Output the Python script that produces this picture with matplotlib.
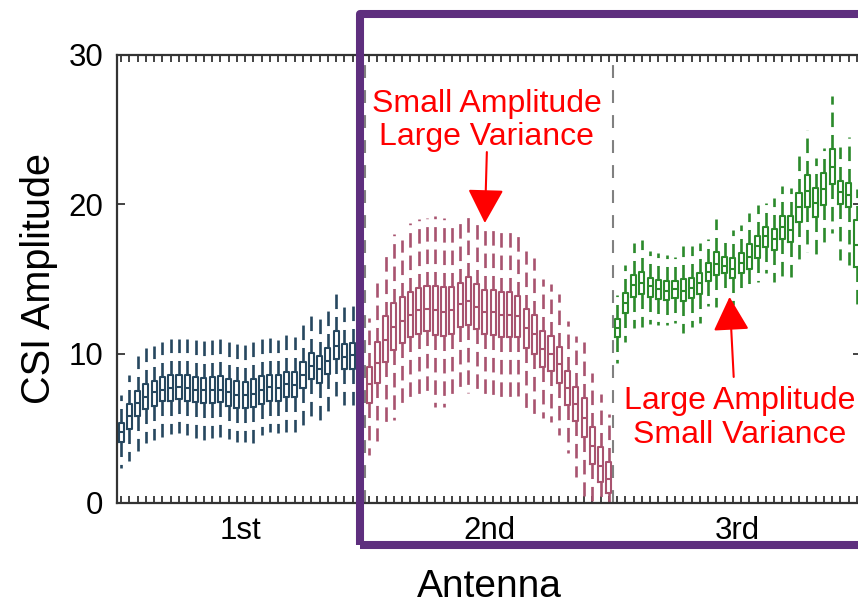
import matplotlib
matplotlib.use("Agg")
import matplotlib.pyplot as plt
from matplotlib.patches import Rectangle
import numpy as np

plt.rcParams['font.family'] = ['Liberation Sans', 'DejaVu Sans']

antennas = ['1st', '2nd', '3rd']
colors = ['#26475f', '#a8536f', '#2b8a2b']

ant1_q1 = [4.1, 4.95, 5.85, 6.3, 6.5, 6.8, 6.85, 6.95, 6.85, 6.75, 6.7, 6.7, 6.75, 6.5, 6.38,
           6.35, 6.45, 6.6, 6.83, 6.83, 7.08, 7.08, 7.72, 8.28, 8.06, 8.64, 9.62, 8.95, 9.0, 9.0]
ant1_med = [4.75, 5.8, 6.7, 7.1, 7.4, 7.6, 7.7, 7.75, 7.7, 7.6, 7.55, 7.6, 7.6, 7.4, 7.25,
            7.2, 7.3, 7.6, 7.75, 7.7, 7.95, 7.9, 8.6, 9.2, 8.95, 9.5, 10.5, 9.8, 9.9, 9.8]
ant1_q3 = [5.38, 6.6, 7.5, 7.97, 8.2, 8.45, 8.57, 8.6, 8.57, 8.46, 8.4, 8.46, 8.5, 8.28, 8.17,
           8.1, 8.28, 8.5, 8.6, 8.57, 8.8, 8.75, 9.46, 10.07, 9.85, 10.4, 11.5, 10.65, 10.7, 10.6]
ant1_lo = [2.35, 2.8, 3.5, 4.0, 4.2, 4.45, 4.6, 4.7, 4.55, 4.33, 4.2, 4.33, 4.45, 4.26, 4.1,
           4.1, 4.04, 4.55, 4.78, 4.67, 4.78, 4.78, 5.22, 5.78, 5.45, 6.05, 6.79, 6.56, 6.56, 6.6]
ant1_hi = [7.2, 8.6, 9.85, 10.36, 10.5, 10.8, 10.96, 10.96, 11.0, 10.9, 10.85, 11.2, 11.2, 10.9, 10.8,
           10.9, 10.96, 11.14, 11.14, 10.9, 11.25, 11.1, 11.9, 12.75, 12.5, 13.04, 14.38, 13.15, 13.2, 13.0]

ant2_q1 = [6.7, 8.06, 9.42, 10.25, 10.7, 11.1, 11.3, 11.5, 11.25, 11.2, 11.3, 11.8, 11.92, 11.65, 11.32,
           11.25, 11.14, 11.1, 11.14, 10.36, 9.98, 9.13, 8.86, 8.06, 6.56, 5.5, 4.44, 2.6, 1.43, 0.69]
ant2_med = [8.0, 9.4, 10.9, 11.8, 12.2, 12.6, 12.9, 13.0, 12.9, 12.8, 12.9, 13.3, 13.5, 13.1, 12.8,
            12.8, 12.6, 12.6, 12.5, 11.7, 11.3, 10.3, 10.0, 9.3, 7.7, 6.6, 5.7, 3.8, 2.5, 1.6]
ant2_q3 = [9.1, 10.76, 12.5, 13.37, 13.78, 14.15, 14.4, 14.5, 14.5, 14.45, 14.45, 14.76, 15.16, 14.65, 14.27,
           14.27, 14.15, 14.1, 13.86, 13.0, 12.6, 11.52, 11.2, 10.47, 8.84, 7.8, 7.0, 5.11, 3.77, 2.77]
ant2_lo = [3.2, 4.17, 5.0, 5.56, 6.23, 6.68, 6.8, 7.0, 6.45, 6.45, 6.9, 7.39, 7.35, 7.17, 6.9,
           6.9, 6.8, 6.72, 7.17, 6.23, 5.78, 5.67, 5.45, 4.55, 3.33, 1.76, 0.5, 0.0, 0.0, 0.0]
ant2_hi = [12.4, 14.7, 17.0, 18.0, 17.6, 18.73, 19.0, 19.07, 19.2, 19.07, 18.96, 18.9, 19.5, 19.1, 18.7,
           18.7, 18.3, 18.5, 17.9, 16.9, 16.4, 15.0, 14.65, 13.98, 12.2, 11.2, 10.76, 8.69, 7.28, 5.94]

ant3_q1 = [11.1, 12.75, 13.8, 14.0, 13.8, 13.64, 13.6, 13.7, 13.5, 13.7, 14.0, 14.87, 15.27, 15.43, 15.05,
           15.4, 15.67, 16.43, 17.17, 16.95, 17.66, 17.5, 18.84, 19.85, 19.18, 19.96, 21.37, 20.03, 19.85, 15.8]
ant3_med = [11.7, 13.4, 14.6, 14.7, 14.5, 14.3, 14.2, 14.3, 14.2, 14.4, 14.7, 15.5, 16.0, 15.9, 15.7,
            16.1, 16.5, 17.2, 17.9, 17.7, 18.5, 18.3, 19.8, 20.9, 20.1, 21.0, 22.5, 20.8, 20.6, 17.3]
ant3_q3 = [12.3, 14.05, 15.3, 15.45, 15.1, 14.94, 14.87, 14.87, 15.0, 15.1, 15.43, 16.05, 16.8, 16.46, 16.4,
           16.77, 17.33, 17.88, 18.5, 18.35, 19.22, 19.22, 20.78, 21.97, 21.12, 22.08, 23.7, 21.57, 21.45, 18.95]
ant3_lo = [9.36, 10.8, 11.7, 11.8, 12.0, 11.9, 11.9, 12.08, 11.37, 11.77, 12.04, 13.2, 13.15, 14.04, 13.26,
           14.15, 14.27, 14.82, 15.43, 14.82, 15.16, 15.16, 16.16, 16.83, 16.6, 17.28, 18.06, 16.28, 15.94, 13.0]
ant3_hi = [13.93, 15.94, 17.4, 17.6, 16.9, 16.72, 16.6, 16.5, 17.2, 17.2, 17.4, 17.66, 19.0, 17.9, 18.3,
           18.6, 19.45, 19.96, 20.07, 20.4, 21.23, 21.08, 23.3, 25.0, 23.1, 23.76, 27.26, 23.87, 24.5, 21.0]

data = [
    (ant1_q1, ant1_med, ant1_q3, ant1_lo, ant1_hi),
    (ant2_q1, ant2_med, ant2_q3, ant2_lo, ant2_hi),
    (ant3_q1, ant3_med, ant3_q3, ant3_lo, ant3_hi),
]
n_sub = 30

fig = plt.figure(figsize=(8.58, 6.04), dpi=100)
ax = fig.add_axes([117/858, 1-503/604, 744/858, 448/604])

for k, (q1, med, q3, lo, hi) in enumerate(data):
    stats = []
    for i in range(n_sub):
        stats.append(dict(q1=q1[i], med=med[i], q3=q3[i], whislo=lo[i], whishi=hi[i], fliers=[]))
    pos = np.arange(n_sub) + 1 + k*n_sub
    c = colors[k]
    ax.bxp(stats, positions=pos, widths=0.62, showcaps=False, showfliers=False,
           manage_ticks=False,
           boxprops=dict(color=c, linewidth=1.5),
           medianprops=dict(color=c, linewidth=1.5),
           whiskerprops=dict(color=c, linewidth=1.9, linestyle=(0, (5.5, 3.0))))

for sep in [30.5, 60.5]:
    ax.axvline(sep, color='#808080', linewidth=1.5, linestyle=(0, (6.2, 5.8)), zorder=0)

ax.set_xlim(0.5, 90.5)
ax.set_ylim(0, 30)
ax.set_yticks([0, 10, 20, 30])
ax.set_xticks([15.5, 45.5, 75.5])
ax.set_xticklabels(antennas)
ax.set_xticks(np.arange(1, 91), minor=True)
ax.tick_params(axis='x', which='major', length=0, pad=9.5, labelsize=22.5)
ax.tick_params(axis='x', which='minor', direction='in', length=5, width=1.2,
               top=True, bottom=True, color='#222222')
ax.tick_params(axis='y', which='major', direction='in', length=6, width=1.2,
               left=True, right=True, labelsize=22.5, pad=10, color='#222222')
for s in ax.spines.values():
    s.set_linewidth(1.6)
    s.set_color('#333333')

ax.set_xlabel('Antenna', fontsize=28)
ax.xaxis.set_label_coords(0.5, -0.148)
ax.set_ylabel('CSI Amplitude', fontsize=28.5)
ax.yaxis.set_label_coords(-0.079, 0.5)

arrow_style = '-|>,head_length=0.85,head_width=0.45'
ax.annotate('', xy=(45.0, 18.75), xytext=(45.24, 23.5),
            arrowprops=dict(arrowstyle=arrow_style, color='red',
                            lw=1.5, mutation_scale=25, shrinkA=0, shrinkB=0))
ax.text(45.24, 25.6, 'Small Amplitude\nLarge Variance', color='red', fontsize=23,
        ha='center', va='center', linespacing=1.15)
ax.annotate('', xy=(74.6, 13.8), xytext=(75.1, 8.44),
            arrowprops=dict(arrowstyle=arrow_style, color='red',
                            lw=1.5, mutation_scale=25, shrinkA=0, shrinkB=0))
ax.text(75.8, 5.7, 'Large Amplitude\nSmall Variance', color='red', fontsize=23,
        ha='center', va='center', linespacing=1.18)

rect = Rectangle((360/858, 1-545/604), 520/858, (545-14)/604, transform=fig.transFigure,
                 fill=False, edgecolor='#5e2f7e', linewidth=5.8, joinstyle='round', zorder=10)
fig.patches.append(rect)

fig.savefig('out.png', dpi=100)
